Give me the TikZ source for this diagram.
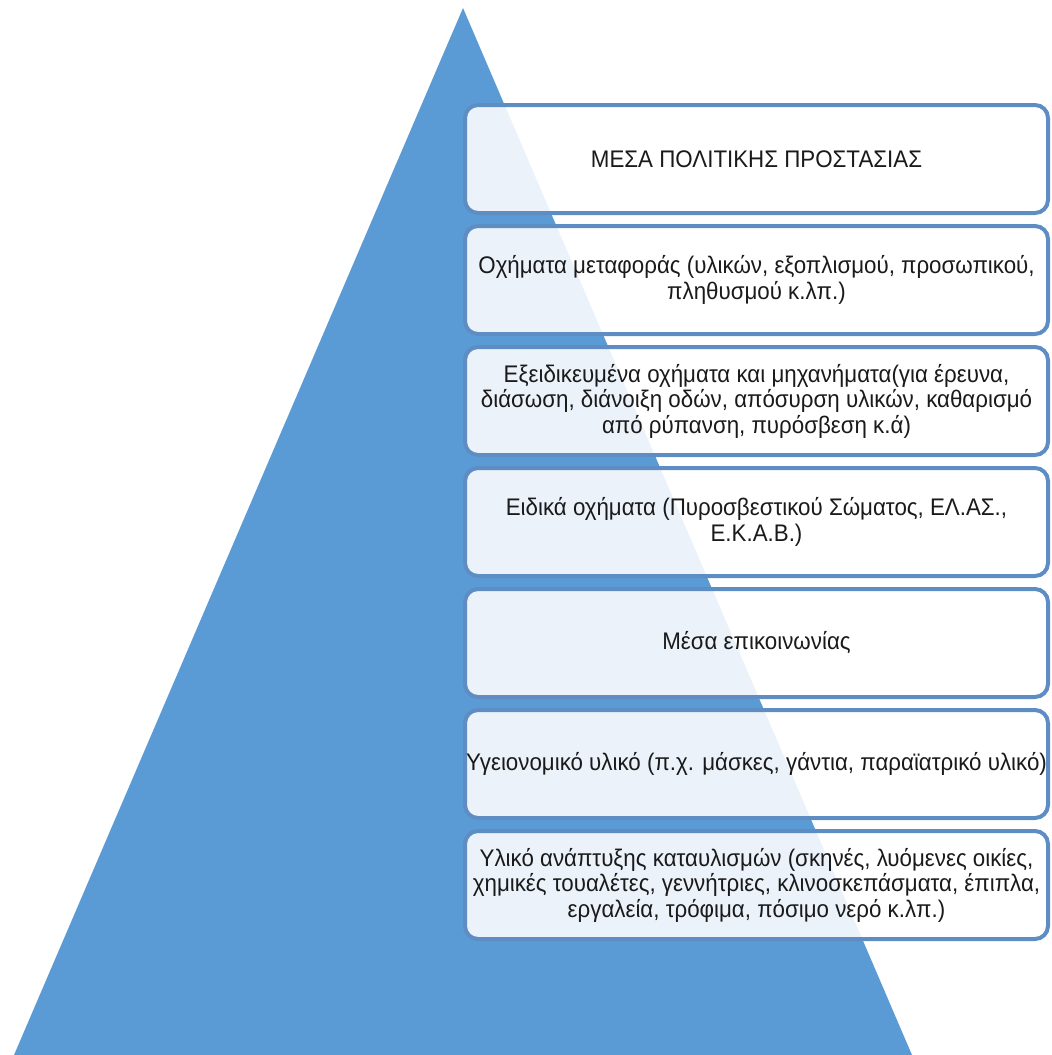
\documentclass[tikz,border=0pt]{standalone}
\usepackage{fontspec}
\setmainfont[FakeStretch=0.93]{Liberation Sans}
\definecolor{pyrblue}{HTML}{5B9BD5}
\definecolor{boxblue}{HTML}{5E8DC4}
\definecolor{textgray}{HTML}{1A1A1A}
\begin{document}
\begin{tikzpicture}[x=1pt,y=-1pt,
  tier/.style={draw=boxblue, line width=4pt, fill=white, fill opacity=0.88,
    draw opacity=1, text opacity=1, rounded corners=13pt,
    minimum width=583pt, minimum height=108pt, inner sep=0pt,
    align=center, text=textgray, font=\fontsize{24}{25.5}\selectfont}]
\useasboundingbox (0,0) rectangle (1052,1055);
% pyramid
\fill[pyrblue] (463,8) -- (912,1055) -- (14,1055) -- cycle;
% tiers
\node[tier] (t1) at (756.5,159) {ΜΕΣΑ ΠΟΛΙΤΙΚΗΣ ΠΡΟΣΤΑΣΙΑΣ};
\node[tier] (t2) at (756.5,280) {Οχήματα μεταφοράς (υλικών, εξοπλισμού, προσωπικού,\\ πληθυσμού κ.λπ.)};
\node[tier] (t3) at (756.5,401) {Εξειδικευμένα οχήματα και μηχανήματα(για έρευνα,\\ διάσωση, διάνοιξη οδών, απόσυρση υλικών, καθαρισμό\\ από ρύπανση, πυρόσβεση κ.ά)};
\node[tier] (t4) at (756.5,522) {Ειδικά οχήματα (Πυροσβεστικού Σώματος, ΕΛ.ΑΣ.,\\ Ε.Κ.Α.Β.)};
\node[tier] (t5) at (756.5,643) {Μέσα επικοινωνίας};
\node[tier] (t6) at (756.5,764) {Υγειονομικό υλικό (π.χ. μάσκες, γάντια, παραϊατρικό υλικό)};
\node[tier] (t7) at (756.5,885) {Υλικό ανάπτυξης καταυλισμών (σκηνές, λυόμενες οικίες,\\ χημικές τουαλέτες, γεννήτριες, κλινοσκεπάσματα, έπιπλα,\\ εργαλεία, τρόφιμα, πόσιμο νερό κ.λπ.)};
\end{tikzpicture}
\end{document}
